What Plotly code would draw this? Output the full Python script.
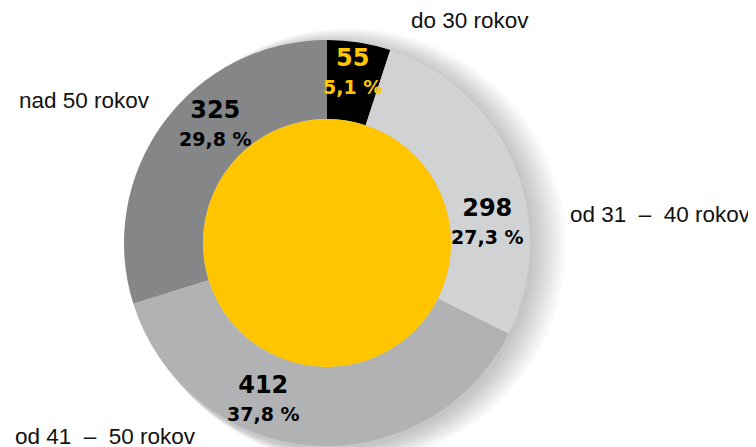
import plotly.graph_objects as go

# age groups of employees
categories = ["do 30 rokov", "od 31  –  40 rokov", "od 41  –  50 rokov", "nad 50 rokov"]
counts = [55, 298, 412, 325]
shares = ["5,1", "27,3", "37,8", "29,8"]

slice_colors = ["#000000", "#d1d2d4", "#b1b2b4", "#858688"]
value_colors = ["#ffc600", "#000000", "#000000", "#000000"]
YELLOW = "#ffc600"

# the page body adds an 8px margin, so the figure is drawn 8px in
PAGE_OFF = 8
W, H = 756 - PAGE_OFF, 447 - PAGE_OFF
CX, CY, R_OUT, R_IN = 327, 243, 203, 124

# pixel anchors (in the screenshot) of the group names and value labels
label_pos = [(409, 21, "left"), (753, 214, "right"), (13, 436, "left"), (17, 100, "left")]
value_pos = [(352, 71), (487, 221), (264, 398), (215, 123)]


def px(x):
    return (x - PAGE_OFF) / W


def py(y):
    return 1 - (y - PAGE_OFF) / H


fig = go.Figure(go.Pie(
    values=counts,
    labels=categories,
    textinfo="none",
    marker=dict(colors=slice_colors, line=dict(width=0)),
    hole=R_IN / R_OUT,
    sort=False,
    direction="clockwise",
    rotation=0,
    showlegend=False,
    hoverinfo="label+value",
    domain=dict(x=[px(CX - R_OUT), px(CX + R_OUT)],
                y=[py(CY + R_OUT), py(CY - R_OUT)]),
))

shapes = []
# soft drop shadow on the right side
for i in range(10):
    r = R_OUT + 1 + i * 1.5
    ox = 3 + i * 2
    shapes.append(dict(
        type="circle", xref="paper", yref="paper", layer="below",
        x0=px(CX + ox - r), x1=px(CX + ox + r),
        y0=py(CY + 3 + r), y1=py(CY + 3 - r),
        fillcolor="rgba(0,0,0,0.022)", line=dict(width=0),
    ))
# yellow centre
shapes.append(dict(
    type="circle", xref="paper", yref="paper", layer="above",
    x0=px(CX - R_IN), x1=px(CX + R_IN),
    y0=py(CY + R_IN), y1=py(CY - R_IN),
    fillcolor=YELLOW, line=dict(width=0),
))

annotations = [
    dict(text=name, x=px(x), y=py(y), xref="paper", yref="paper",
         showarrow=False, xanchor=anchor, yanchor="middle",
         font=dict(family="Liberation Sans, Arial, sans-serif", size=22.5, color="#111111"))
    for name, (x, y, anchor) in zip(categories, label_pos)
]

for c, s, col, (x, y) in zip(counts, shares, value_colors, value_pos):
    annotations.append(dict(
        text=(f"<span style='font-size:24px'><b>{c}</b></span><br>"
              f"<span style='font-size:19px'><b>{s} %</b></span>"),
        x=px(x), y=py(y), xref="paper", yref="paper",
        showarrow=False, xanchor="center", yanchor="middle", align="center",
        font=dict(family="DejaVu Sans", size=21.5, color=col),
    ))

fig.update_layout(
    width=W,
    height=H,
    margin=dict(l=0, r=0, t=0, b=0),
    paper_bgcolor="white",
    plot_bgcolor="white",
    shapes=shapes,
    annotations=annotations,
)

fig.write_html("out.html")
